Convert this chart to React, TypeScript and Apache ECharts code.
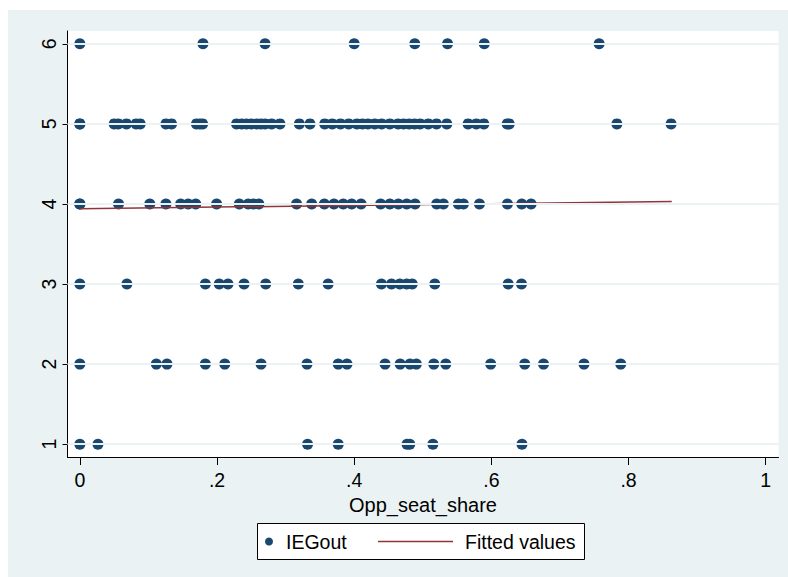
import React, { useEffect, useRef } from "react";
import * as echarts from "echarts";

// x values (Opp_seat_share) of the points on each IEGout level
const IEG_LEVELS = [6, 5, 4, 3, 2, 1];
const X_AT_6 = [0, 0.1795, 0.27, 0.4, 0.4883, 0.5361, 0.5896, 0.7571];
const X_AT_5 = [0, 0, 0.05, 0.056, 0.068, 0.082, 0.088, 0.1255, 0.1337, 0.17, 0.175, 0.179, 0.2285, 0.236, 0.243, 0.25, 0.258, 0.264, 0.27, 0.2796, 0.2918, 0.32, 0.3355, 0.357, 0.368, 0.38, 0.392, 0.404, 0.412, 0.42, 0.43, 0.44, 0.452, 0.464, 0.472, 0.48, 0.488, 0.496, 0.508, 0.52, 0.535, 0.566, 0.578, 0.589, 0.623, 0.626, 0.783, 0.862];
const X_AT_4 = [0, 0, 0.0564, 0.102, 0.1255, 0.147, 0.158, 0.169, 0.1994, 0.2325, 0.2455, 0.253, 0.261, 0.316, 0.338, 0.3565, 0.3705, 0.384, 0.3963, 0.41, 0.4386, 0.452, 0.4644, 0.4766, 0.4887, 0.5203, 0.53, 0.5519, 0.5592, 0.5826, 0.6234, 0.6443, 0.6579];
const X_AT_3 = [0, 0.0686, 0.183, 0.2032, 0.216, 0.2394, 0.271, 0.3185, 0.362, 0.4397, 0.4544, 0.4665, 0.4765, 0.4846, 0.5175, 0.6245, 0.6439];
const X_AT_2 = [0, 0.1115, 0.127, 0.183, 0.2113, 0.2642, 0.3312, 0.3767, 0.3895, 0.445, 0.467, 0.4813, 0.4906, 0.516, 0.5335, 0.599, 0.6486, 0.676, 0.735, 0.7886];
const X_AT_1 = [0, 0.0264, 0.332, 0.3767, 0.477, 0.481, 0.5147, 0.6446];
const X_BY_LEVEL = [X_AT_6, X_AT_5, X_AT_4, X_AT_3, X_AT_2, X_AT_1];

// fitted values line endpoints
const FIT_X = [0, 0.863];
const FIT_Y = [3.94, 4.03];

const X_TICKS = [0, 0.2, 0.4, 0.6, 0.8, 1];
const Y_TICKS = [1, 2, 3, 4, 5, 6];

const NAVY = "#1A476F";
const MAROON = "#90353B";
const BG = "#EAF2F3";
const FONT = "Liberation Sans";

export default function App() {
  const ref = useRef<HTMLDivElement>(null);
  useEffect(() => {
    if (!ref.current) return;
    const chart = echarts.init(ref.current, undefined, { renderer: "svg" });
    const points: number[][] = [];
    IEG_LEVELS.forEach((lvl, i) => {
      X_BY_LEVEL[i].forEach((x) => points.push([x, lvl]));
    });
    const fit = FIT_X.map((x, i) => [x, FIT_Y[i]]);
    const fmtX = (v: number) => {
      const s = String(Math.round(v * 10) / 10);
      return s.startsWith("0.") ? s.slice(1) : s;
    };
    chart.setOption({
      animation: false,
      backgroundColor: "#fff",
      textStyle: { fontFamily: FONT },
      graphic: [
        {
          type: "rect",
          z: -10,
          silent: true,
          shape: { x: 8, y: 10, width: 780, height: 567 },
          style: { fill: BG },
        },
        {
          type: "group",
          z: 100,
          children: [
            {
              type: "rect",
              shape: { x: 257.5, y: 523.5, width: 327, height: 36 },
              style: { fill: "#fff", stroke: "#000", lineWidth: 1 },
            },
            {
              type: "circle",
              shape: { cx: 269, cy: 541.5, r: 4 },
              style: { fill: NAVY },
            },
            {
              type: "text",
              x: 286,
              y: 541.5,
              style: { text: "IEGout", fontSize: 19.5, fontFamily: FONT, fill: "#000", verticalAlign: "middle" },
            },
            {
              type: "line",
              shape: { x1: 378, y1: 541.5, x2: 453, y2: 541.5 },
              style: { stroke: MAROON, lineWidth: 1.5 },
            },
            {
              type: "text",
              x: 465,
              y: 541.5,
              style: { text: "Fitted values", fontSize: 19.5, fontFamily: FONT, fill: "#000", verticalAlign: "middle" },
            },
          ],
        },
      ],
      grid: {
        left: 67.5,
        right: 9.5,
        top: 31,
        bottom: 120,
        show: true,
        backgroundColor: "#fff",
        borderWidth: 0,
      },
      xAxis: {
        type: "value",
        min: -0.018,
        max: 1.0186,
        name: "Opp_seat_share",
        nameLocation: "middle",
        nameGap: 28,
        nameTextStyle: { fontSize: 20, color: "#000", fontFamily: FONT },
        axisLine: { show: true, onZero: false, lineStyle: { color: "#000", width: 1 } },
        axisTick: { show: true, length: 8, customValues: X_TICKS, lineStyle: { color: "#000" } },
        axisLabel: { customValues: X_TICKS, formatter: fmtX, fontSize: 19.5, color: "#000", margin: 13, fontFamily: FONT },
        splitLine: { show: false },
      },
      yAxis: {
        type: "value",
        min: 0.84,
        max: 6.16,
        axisLine: { show: true, onZero: false, lineStyle: { color: "#000", width: 1 } },
        axisTick: { show: true, length: 5, customValues: Y_TICKS, lineStyle: { color: "#000" } },
        axisLabel: { customValues: Y_TICKS, rotate: 90, fontSize: 19.5, color: "#000", margin: 9, fontFamily: FONT },
        splitLine: { show: false },
      },
      series: [
        {
          type: "scatter",
          name: "grid",
          data: [],
          z: 1,
          silent: true,
          markLine: {
            silent: true,
            symbol: "none",
            label: { show: false },
            lineStyle: { color: BG, width: 2, type: "solid" },
            data: Y_TICKS.map((v) => ({ yAxis: v })),
          },
        },
        {
          type: "scatter",
          name: "IEGout",
          data: points,
          symbol: "circle",
          symbolSize: 11,
          itemStyle: { color: NAVY, opacity: 1 },
          z: 3,
        },
        {
          type: "line",
          name: "Fitted values",
          data: fit,
          symbol: "none",
          lineStyle: { color: MAROON, width: 1.5 },
          z: 4,
        },
      ],
    });
    return () => chart.dispose();
  }, []);
  return <div ref={ref} style={{ position: "fixed", left: 0, top: 0, width: 788, height: 577 }} />;
}
